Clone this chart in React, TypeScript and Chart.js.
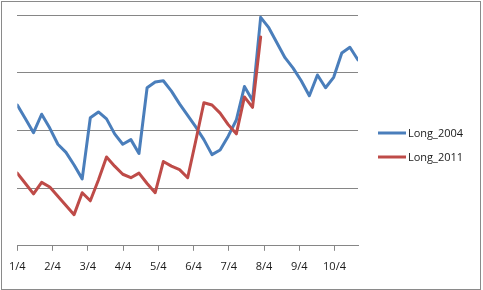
import React, { useEffect, useRef } from "react";
import { Chart, registerables } from "chart.js";

Chart.register(...registerables);

// Weekly readings (one value per week, starting at 1/4)
const long2004: number[] = [
  12.2, 11.0, 9.8, 11.4, 10.2, 8.8, 8.1, 7.0, 5.8, 11.1,
  11.6, 11.0, 9.7, 8.8, 9.2, 8.0, 13.7, 14.2, 14.3, 13.4,
  12.3, 11.3, 10.3, 9.2, 7.9, 8.3, 9.5, 10.9, 13.8, 12.6,
  19.8, 18.9, 17.6, 16.3, 15.4, 14.3, 13.0, 14.8, 13.7, 14.6,
  16.7, 17.2, 16.1,
];
const long2011: number[] = [
  6.3, 5.4, 4.5, 5.5, 5.1, 4.3, 3.5, 2.7, 4.6, 3.9,
  5.7, 7.7, 6.9, 6.2, 5.9, 6.3, 5.4, 4.6, 7.3, 6.9,
  6.6, 5.9, 9.1, 12.4, 12.2, 11.5, 10.5, 9.7, 12.9, 12.0,
  18.1,
];
const seriesNames: string[] = ["Long_2004", "Long_2011"];
const seriesColors: string[] = ["#4A7EBB", "#BE4B48"];
const monthLabels: string[] = ["1/4", "2/4", "3/4", "4/4", "5/4", "6/4", "7/4", "8/4", "9/4", "10/4"];

const WEEKS_PER_MONTH = 365 / 12 / 7;
const FONT = '"Open Sans", "DejaVu Sans", sans-serif';
const GRID = "#868686";

const sideLegend = {
  id: "sideLegend",
  afterDraw(chart: any) {
    const ctx = chart.ctx as CanvasRenderingContext2D;
    chart.data.datasets.forEach((ds: any, i: number) => {
      const y = 133 + i * 24;
      ctx.save();
      ctx.strokeStyle = ds.borderColor;
      ctx.lineWidth = 3;
      ctx.beginPath();
      ctx.moveTo(378, y);
      ctx.lineTo(406, y);
      ctx.stroke();
      ctx.fillStyle = "#1a1a1a";
      ctx.font = `11px ${FONT}`;
      ctx.textBaseline = "middle";
      ctx.textAlign = "left";
      ctx.fillText(ds.label, 408, y + 0.5);
      ctx.restore();
    });
  },
};

export default function App() {
  const ref = useRef<HTMLCanvasElement | null>(null);

  useEffect(() => {
    if (!ref.current) return;
    const toPoints = (arr: number[]) => arr.map((v, i) => ({ x: i, y: v }));
    const chart = new Chart(ref.current, {
      type: "line",
      data: {
        datasets: [
          {
            label: seriesNames[0],
            data: toPoints(long2004),
            borderColor: seriesColors[0],
            backgroundColor: seriesColors[0],
            borderWidth: 3,
            pointRadius: 0,
            tension: 0,
            borderJoinStyle: "round",
            borderCapStyle: "round",
            order: 1,
          },
          {
            label: seriesNames[1],
            data: toPoints(long2011),
            borderColor: seriesColors[1],
            backgroundColor: seriesColors[1],
            borderWidth: 3,
            pointRadius: 0,
            tension: 0,
            borderJoinStyle: "round",
            borderCapStyle: "round",
            order: 0,
          },
        ],
      },
      options: {
        animation: false,
        responsive: false,
        devicePixelRatio: 1,
        layout: { padding: { left: 16, right: 125, top: 15, bottom: 8 } },
        plugins: {
          legend: { display: false },
          tooltip: { enabled: false },
        },
        scales: {
          x: {
            type: "linear",
            min: 0,
            max: long2004.length - 1,
            afterBuildTicks: (scale: any) => {
              scale.ticks = monthLabels.map((_, k) => ({ value: k * WEEKS_PER_MONTH }));
            },
            ticks: {
              autoSkip: false,
              maxRotation: 0,
              padding: 9,
              color: "#1a1a1a",
              font: { family: FONT, size: 11 },
              callback: (_v: any, i: number) => monthLabels[i],
            },
            grid: {
              drawOnChartArea: false,
              drawTicks: true,
              tickLength: 5,
              color: GRID,
            },
            border: { display: true, color: GRID, width: 1 },
          },
          y: {
            min: 0,
            max: 20,
            ticks: { display: false, stepSize: 5 },
            grid: { color: GRID, drawTicks: false, lineWidth: 1 },
            border: { display: false },
          },
        },
      },
      plugins: [sideLegend],
    });
    return () => chart.destroy();
  }, []);

  return (
    <div
      style={{
        position: "fixed",
        left: 0,
        top: 0,
        width: 483,
        height: 290,
        background: "#fff",
      }}
    >
      <canvas ref={ref} width={483} height={290} style={{ position: "absolute", left: 0, top: 0 }} />
      <div
        style={{
          position: "absolute",
          left: 1,
          top: 1,
          width: 480,
          height: 289,
          boxSizing: "border-box",
          border: "1px solid #8a8a8a",
          pointerEvents: "none",
        }}
      />
    </div>
  );
}
